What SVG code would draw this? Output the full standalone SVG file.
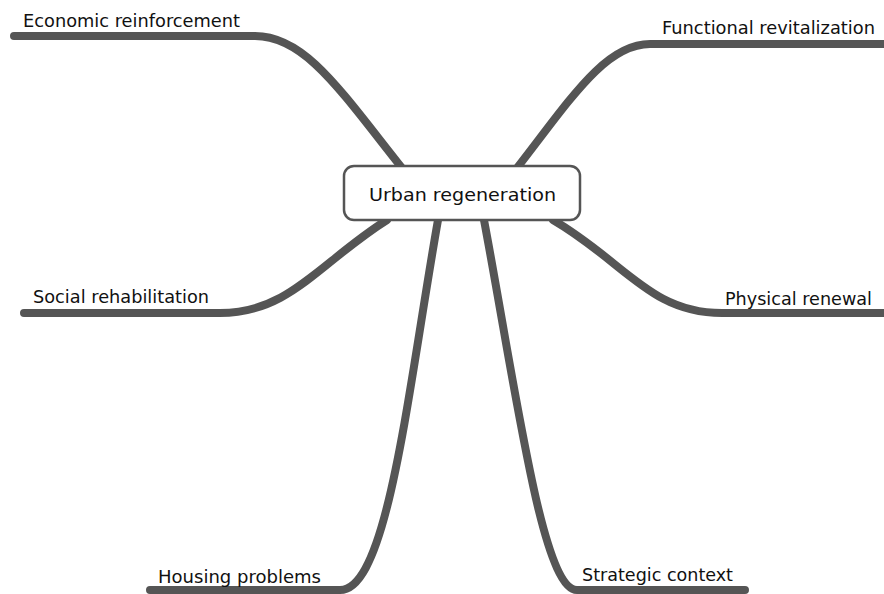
<svg xmlns="http://www.w3.org/2000/svg" width="884" height="594" viewBox="0 0 884 594">
  <style>
    .branch { fill: none; stroke: #555555; stroke-width: 8; stroke-linecap: round; stroke-linejoin: round; }
    .label { font-family: "DejaVu Sans", "Liberation Sans", sans-serif; font-size: 17px; fill: #111111; }
    .root-box { fill: #ffffff; stroke: #555555; stroke-width: 2.5; }
    .root-label { font-family: "DejaVu Sans", "Liberation Sans", sans-serif; font-size: 18.5px; fill: #111111; }
  </style>
  <rect width="884" height="594" fill="#ffffff"/>
  <g id="connectors">
    <path class="branch" d="M 14 36 L 255 36 C 305 36, 340 90, 402 168"/>
    <path class="branch" d="M 890 44 L 650 44 C 605 44, 570 100, 517 168"/>
    <path class="branch" d="M 24 313 L 220 313 C 290 313, 320 262, 387 220"/>
    <path class="branch" d="M 553 220 C 625 262, 650 313, 722 313 L 890 313"/>
    <path class="branch" d="M 438 220 C 408 390, 388 590, 340 590 L 150 590"/>
    <path class="branch" d="M 484 220 C 516 390, 542 590, 577 590 L 745 590"/>
  </g>
  <g id="root">
    <rect class="root-box" x="344" y="166" width="236" height="54" rx="10" ry="10"/>
    <text class="root-label" x="369" y="201" textLength="187" lengthAdjust="spacingAndGlyphs">Urban regeneration</text>
  </g>
  <g id="economic">
    <text class="label" x="23" y="27" textLength="217" lengthAdjust="spacingAndGlyphs">Economic reinforcement</text>
  </g>
  <g id="functional">
    <text class="label" x="662" y="34" textLength="213" lengthAdjust="spacingAndGlyphs">Functional revitalization</text>
  </g>
  <g id="social">
    <text class="label" x="33" y="303" textLength="176" lengthAdjust="spacingAndGlyphs">Social rehabilitation</text>
  </g>
  <g id="physical">
    <text class="label" x="725" y="305" textLength="147" lengthAdjust="spacingAndGlyphs">Physical renewal</text>
  </g>
  <g id="housing">
    <text class="label" x="158" y="583" textLength="163" lengthAdjust="spacingAndGlyphs">Housing problems</text>
  </g>
  <g id="strategic">
    <text class="label" x="582" y="581" textLength="151" lengthAdjust="spacingAndGlyphs">Strategic context</text>
  </g>
</svg>
